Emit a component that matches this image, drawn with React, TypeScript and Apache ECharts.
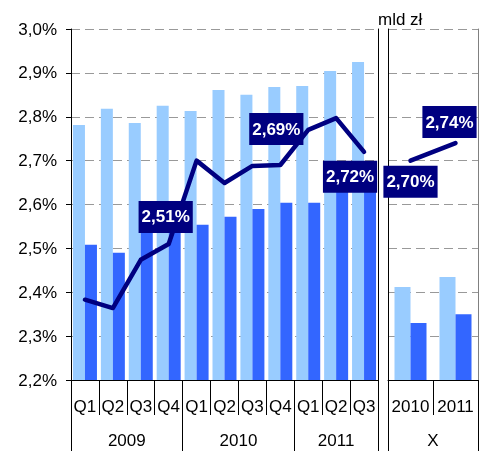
import React, { useEffect, useRef } from 'react';
import * as echarts from 'echarts';

// ---- data ----
const quarters = ['Q1', 'Q2', 'Q3', 'Q4', 'Q1', 'Q2', 'Q3', 'Q4', 'Q1', 'Q2', 'Q3'];
const years = ['2009', '2010', '2011'];
const yearSpans = [4, 4, 3];
const lightQ = [2.781, 2.818, 2.786, 2.825, 2.813, 2.861, 2.85, 2.868, 2.87, 2.904, 2.925];
const darkQ = [2.508, 2.49, 2.545, 2.55, 2.554, 2.572, 2.59, 2.604, 2.604, 2.63, 2.645];
const ratioQ = [2.383, 2.364, 2.474, 2.51, 2.7, 2.649, 2.688, 2.69, 2.77, 2.797, 2.72];
const annualCats = ['2010', '2011'];
const annualGroup = ['X'];
const lightA = [212, 235];
const darkA = [130, 150];
const ratioA = [2.7, 2.74];
const unitLabel = 'mld zł';

// label placement (which points are labelled and where)
const leftLabelOffsets: Record<number, [number, number]> = { 3: [-3, -27], 7: [-4, -36], 10: [-14, 25] };
const rightLabelOffsets: Record<number, [number, number]> = { 0: [0, 21], 1: [-6, -21] };

const FONT = 'Arial, "Liberation Sans", sans-serif';
const LIGHT = '#99CCFF';
const DARK = '#3366FF';
const NAVY = '#000080';

const pct = (v: number, d: number) => v.toFixed(d).replace('.', ',') + '%';

const labelStyle = (off: [number, number]) => ({
  show: true,
  position: 'inside',
  offset: off,
  formatter: (p: any) => pct(p.value, 2),
  backgroundColor: NAVY,
  color: '#fff',
  fontWeight: 'bold',
  fontSize: 17,
  fontFamily: FONT,
  lineHeight: 18,
  padding: [7, 3, 7, 3],
});

const withLabels = (vals: number[], offs: Record<number, [number, number]>) =>
  vals.map((v, i) => (offs[i] ? { value: v, label: labelStyle(offs[i]) } : { value: v }));

export default function App() {
  const ref = useRef<HTMLDivElement>(null);
  useEffect(() => {
    if (!ref.current) return;
    const chart = echarts.init(ref.current, null, { renderer: 'svg' });

    const bounds: number[] = [0];
    yearSpans.forEach((s) => bounds.push(bounds[bounds.length - 1] + s));
    const centers = yearSpans.map((s, i) => bounds[i] + s / 2);
    const total = bounds[bounds.length - 1];

    const txt = { fontSize: 17, color: '#000', fontFamily: FONT };

    chart.setOption({
      animation: false,
      textStyle: { fontFamily: FONT },
      title: {
        text: unitLabel,
        left: 378,
        top: 11,
        padding: 0,
        textStyle: { fontSize: 17, fontWeight: 'normal', color: '#000', fontFamily: FONT },
      },
      grid: [
        { left: 71, top: 29, width: 307, height: 351 },
        { left: 388, top: 29, width: 90, height: 351 },
      ],
      xAxis: [
        {
          type: 'category',
          gridIndex: 0,
          data: quarters,
          axisLine: { lineStyle: { color: '#000', width: 1 } },
          axisTick: { show: true, interval: 0, length: 35, lineStyle: { color: '#000' } },
          axisLabel: { interval: 0, margin: 18, ...txt },
          splitLine: { show: false },
        },
        {
          type: 'value',
          gridIndex: 0,
          min: 0,
          max: total,
          position: 'bottom',
          axisLine: { show: false },
          axisTick: { show: true, customValues: bounds, length: 71, lineStyle: { color: '#000' } },
          axisLabel: {
            customValues: centers,
            formatter: (v: number) => {
              const i = centers.findIndex((c) => Math.abs(c - v) < 1e-6);
              return i >= 0 ? years[i] : '';
            },
            margin: 52,
            ...txt,
          },
          splitLine: { show: false },
        },
        {
          type: 'category',
          gridIndex: 1,
          data: annualCats,
          axisLine: { lineStyle: { color: '#000', width: 1 } },
          axisTick: { show: true, interval: 0, length: 35, lineStyle: { color: '#000' } },
          axisLabel: { interval: 0, margin: 18, ...txt },
          splitLine: { show: false },
        },
        {
          type: 'value',
          gridIndex: 1,
          min: 0,
          max: annualCats.length,
          position: 'bottom',
          axisLine: { show: false },
          axisTick: { show: true, customValues: [0, annualCats.length], length: 71, lineStyle: { color: '#000' } },
          axisLabel: {
            customValues: [annualCats.length / 2],
            formatter: () => annualGroup[0],
            margin: 52,
            ...txt,
          },
          splitLine: { show: false },
        },
      ],
      yAxis: [
        {
          type: 'value',
          gridIndex: 0,
          min: 2.2,
          max: 3.0,
          interval: 0.1,
          position: 'left',
          axisLine: { show: true, lineStyle: { color: '#000' } },
          axisTick: { show: true, length: 5, lineStyle: { color: '#000' } },
          axisLabel: { formatter: (v: number) => pct(v, 1), margin: 14, ...txt },
          splitLine: { show: true, lineStyle: { color: '#999', type: [9, 5] } },
        },
        {
          type: 'value',
          gridIndex: 0,
          min: 2.2,
          max: 3.0,
          interval: 0.1,
          position: 'right',
          axisLine: { show: true, lineStyle: { color: '#000' } },
          axisTick: { show: false },
          axisLabel: { show: false },
          splitLine: { show: false },
        },
        {
          type: 'value',
          gridIndex: 1,
          min: 0,
          max: 800,
          interval: 100,
          position: 'left',
          axisLine: { show: true, lineStyle: { color: '#000' } },
          axisTick: { show: false },
          axisLabel: { show: false },
          splitLine: { show: true, lineStyle: { color: '#999', type: [9, 5] } },
        },
        {
          type: 'value',
          gridIndex: 1,
          min: 2.2,
          max: 3.0,
          interval: 0.1,
          position: 'right',
          axisLine: { show: true, lineStyle: { color: '#808080' } },
          axisTick: { show: false },
          axisLabel: { show: false },
          splitLine: { show: false },
        },
      ],
      series: [
        {
          type: 'bar',
          xAxisIndex: 0,
          yAxisIndex: 0,
          data: lightQ,
          barWidth: 12,
          barGap: '0%',
          itemStyle: { color: LIGHT },
        },
        {
          type: 'bar',
          xAxisIndex: 0,
          yAxisIndex: 0,
          data: darkQ,
          barWidth: 12,
          barGap: '0%',
          itemStyle: { color: DARK },
        },
        {
          type: 'line',
          xAxisIndex: 0,
          yAxisIndex: 0,
          data: withLabels(ratioQ, leftLabelOffsets),
          symbol: 'circle',
          symbolSize: 1,
          showSymbol: true,
          itemStyle: { color: NAVY },
          lineStyle: { color: NAVY, width: 4.5, cap: 'round', join: 'round' },
          z: 5,
        },
        {
          type: 'bar',
          xAxisIndex: 2,
          yAxisIndex: 2,
          data: lightA,
          barWidth: 16,
          barGap: '0%',
          itemStyle: { color: LIGHT },
        },
        {
          type: 'bar',
          xAxisIndex: 2,
          yAxisIndex: 2,
          data: darkA,
          barWidth: 16,
          barGap: '0%',
          itemStyle: { color: DARK },
        },
        {
          type: 'line',
          xAxisIndex: 2,
          yAxisIndex: 3,
          data: withLabels(ratioA, rightLabelOffsets),
          symbol: 'circle',
          symbolSize: 1,
          showSymbol: true,
          itemStyle: { color: NAVY },
          lineStyle: { color: NAVY, width: 4.5, cap: 'round', join: 'round' },
          z: 5,
        },
      ],
    });
    return () => chart.dispose();
  }, []);
  return <div ref={ref} style={{ position: 'fixed', left: 0, top: 0, width: 479, height: 451 }} />;
}
